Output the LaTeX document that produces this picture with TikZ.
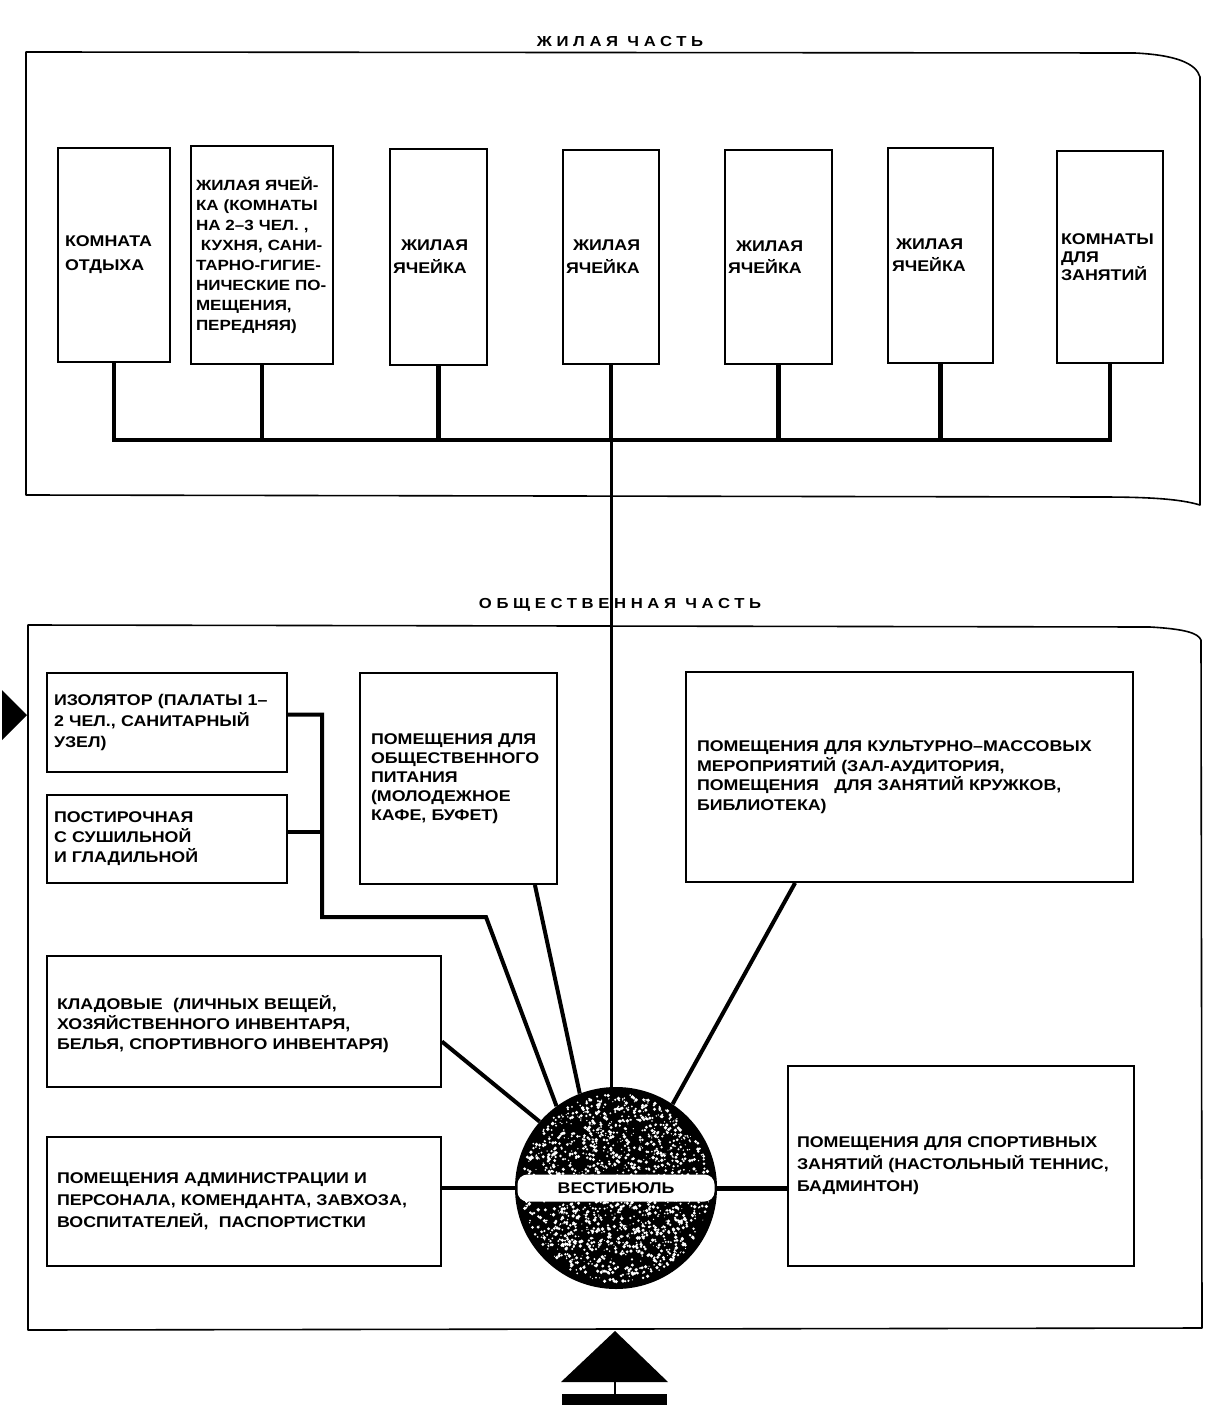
\documentclass[tikz,border=0pt]{standalone}
\usepackage{fontspec}
\setmainfont{Liberation Sans}[FakeStretch=1.15]
\usetikzlibrary{calc}
\newcommand\roomfnt{\fontsize{15.5}{20}\selectfont\bfseries}
\newcommand\ttlfnt{\fontsize{14.5}{16}\selectfont\bfseries\addfontfeature{LetterSpace=32}}
\begin{document}
\begin{tikzpicture}[x=1pt,y=-1pt,
 room/.style={draw, line width=1.8pt, align=left, inner ysep=0pt, font=\roomfnt},
 frame/.style={draw, line width=1.6pt, line join=round},
 conn/.style={line width=4pt, line cap=butt},
 bus/.style={line width=4.5pt},
 ttl/.style={font=\ttlfnt, inner sep=0pt}]
\useasboundingbox (0,0) rectangle (1221,1421);
\fill[white] (0,0) rectangle (1221,1421);

% frames
\draw[frame] (26,52) -- (1135,53) .. controls (1175,55) and (1196,63) .. (1200,77) -- (1200,505) .. controls (1180,499) and (1150,497) .. (1100,497) -- (26,495) -- cycle;
\draw[frame] (28,625) -- (1150,627) .. controls (1185,629) and (1198,633) .. (1201,640) -- (1202,1328) -- (28,1330) -- cycle;

\node[ttl] (t1) at (620,42) {ЖИЛАЯ ЧАСТЬ};
\node[ttl] (t2) at (620,605) {ОБЩЕСТВЕННАЯ ЧАСТЬ};

% top rooms
\node[room, minimum width=112pt, minimum height=214pt, text width=98pt, inner xsep=7pt, font={\roomfnt\fontsize{15.5}{24}\selectfont}] (r1) at (114,255) {КОМНАТА\\ОТДЫХА};
\node[room, minimum width=142pt, minimum height=218pt, text width=132pt, inner xsep=5pt, font={\roomfnt\fontsize{14.8}{20}\selectfont}] (r2) at (262,255) {\mbox{ЖИЛАЯ ЯЧЕЙ-}\\\mbox{КА (КОМНАТЫ}\\\mbox{НА 2–3 ЧЕЛ. ,}\\\mbox{ КУХНЯ, САНИ-}\\\mbox{ТАРНО-ГИГИЕ-}\\\mbox{НИЧЕСКИЕ ПО-}\\\mbox{МЕЩЕНИЯ,}\\\mbox{ПЕРЕДНЯЯ)}};
\node[room, minimum width=97pt, minimum height=216pt, text width=91pt, inner xsep=3pt, font={\roomfnt\fontsize{15.5}{23}\selectfont}] (r3) at (438.5,257) {\hspace*{8pt}ЖИЛАЯ\\ЯЧЕЙКА};
\node[room, minimum width=96pt, minimum height=214pt, text width=90pt, inner xsep=3pt, font={\roomfnt\fontsize{15.5}{23}\selectfont}] (r4) at (611,257) {\hspace*{7pt}ЖИЛАЯ\\ЯЧЕЙКА};
\node[room, minimum width=107pt, minimum height=214pt, text width=101pt, inner xsep=3pt, font={\roomfnt\fontsize{15.5}{22}\selectfont}] (r5) at (778.5,257) {\hspace*{8pt}ЖИЛАЯ\\ЯЧЕЙКА};
\node[room, minimum width=105pt, minimum height=215pt, text width=97pt, inner xsep=4pt, font={\roomfnt\fontsize{15.5}{22}\selectfont}] (r6) at (940.5,255.5) {\hspace*{4pt}ЖИЛАЯ\\ЯЧЕЙКА};
\node[room, minimum width=106pt, minimum height=212pt, text width=98pt, inner xsep=4pt, font={\roomfnt\fontsize{15.5}{18}\selectfont}] (r7) at (1110,257) {КОМНАТЫ\\ДЛЯ\\ЗАНЯТИЙ};

% bus
\coordinate (bus) at (0,440);
\draw[bus, line join=miter] (r1.south) -- (r1.south |- bus) -- (r7.south |- bus) -- (r7.south);
\foreach \k in {r2,r3,r4,r5,r6}{\draw[bus, line cap=rect] (\k.south) -- (\k.south |- bus);}

% bottom rooms
\node[room, minimum width=240pt, minimum height=99pt, text width=226pt, inner xsep=7pt, font={\roomfnt\fontsize{15.5}{21}\selectfont}] (iz) at (167,722.5) {ИЗОЛЯТОР (ПАЛАТЫ 1–\\2 ЧЕЛ., САНИТАРНЫЙ\\УЗЕЛ)};
\node[room, minimum width=240pt, minimum height=88pt, text width=226pt, inner xsep=7pt] (post) at (167,839) {ПОСТИРОЧНАЯ\\С СУШИЛЬНОЙ\\И ГЛАДИЛЬНОЙ};
\node[room, minimum width=197pt, minimum height=211pt, text width=175pt, inner xsep=11pt, font={\roomfnt\fontsize{15.5}{19}\selectfont}] (pit) at (458.5,778.5) {ПОМЕЩЕНИЯ ДЛЯ\\ОБЩЕСТВЕННОГО\\ПИТАНИЯ\\(МОЛОДЕЖНОЕ\\КАФЕ, БУФЕТ)};
\node[room, minimum width=447pt, minimum height=210pt, text width=425pt, inner xsep=11pt, font={\roomfnt\fontsize{15.5}{19.5}\selectfont}] (kult) at (909.5,777) {ПОМЕЩЕНИЯ ДЛЯ КУЛЬТУРНО–МАССОВЫХ\\МЕРОПРИЯТИЙ (ЗАЛ-АУДИТОРИЯ,\\ПОМЕЩЕНИЯ\ \ \ ДЛЯ ЗАНЯТИЙ КРУЖКОВ,\\БИБЛИОТЕКА)};
\node[room, minimum width=394pt, minimum height=131pt, text width=374pt, inner xsep=10pt] (klad) at (244,1021.5) {\rule{0pt}{20pt}КЛАДОВЫЕ\ \ (ЛИЧНЫХ ВЕЩЕЙ,\\ХОЗЯЙСТВЕННОГО ИНВЕНТАРЯ,\\БЕЛЬЯ, СПОРТИВНОГО ИНВЕНТАРЯ)};
\node[room, minimum width=394pt, minimum height=129pt, text width=374pt, inner xsep=10pt, font={\roomfnt\fontsize{15.5}{22}\selectfont}] (adm) at (244,1201.5) {ПОМЕЩЕНИЯ АДМИНИСТРАЦИИ И\\ПЕРСОНАЛА, КОМЕНДАНТА, ЗАВХОЗА,\\ВОСПИТАТЕЛЕЙ,\ \ ПАСПОРТИСТКИ};
\node[room, minimum width=346pt, minimum height=200pt, text width=328pt, inner xsep=9pt, font={\roomfnt\fontsize{15.5}{22}\selectfont}] (sport) at (961,1166) {ПОМЕЩЕНИЯ ДЛЯ СПОРТИВНЫХ\\ЗАНЯТИЙ (НАСТОЛЬНЫЙ ТЕННИС,\\БАДМИНТОН)};

% vestibule sphere
\node[circle, fill=black, minimum size=202pt, inner sep=0pt] (sph) at (616,1188) {};
\begin{scope}
\clip (sph.center) circle (97);
\pgfmathsetseed{12345}
\foreach \i in {1,...,1700}{
 \pgfmathsetmacro\rr{94*sqrt(rnd)}
 \pgfmathsetmacro\aa{360*rnd}
 \pgfmathsetmacro\ss{0.5+1.4*rnd}
 \fill[white] ($(sph.center)+(\aa:\rr)$) circle (\ss);
}
\end{scope}
\node[fill=white, rounded corners=10pt, minimum width=197pt, minimum height=27pt, inner sep=0pt, font={\fontsize{15.5}{17}\selectfont\bfseries}] (vest) at (sph.center) {ВЕСТИБЮЛЬ};

% connectors
\draw[line width=3pt] (r4.south) -- (r4.south |- sph.north);
\coordinate (bend1) at (322,917);
\coordinate (bend2) at (486,917);
\draw[conn, line join=miter] ([yshift=8pt]iz.east) -| (bend1) -- (bend2) -- (sph.126);
\draw[conn] ([yshift=7pt]post.east) -- ([yshift=7pt]post.east -| bend1);
\draw[conn] ([xshift=-23pt]pit.south east) -- (sph.111);
\draw[conn] ([xshift=110pt]kult.south west) -- (sph.56);
\draw[conn] ([yshift=-20pt]klad.east) -- (sph.139);
\draw[conn] (sph.west -| adm.east) -- (sph.west);
\draw[conn, line width=5pt] (sph.east) -- (sph.east -| sport.west);

% entrance markers
\fill[black] (2,690) -- (27,715) -- (2,740) -- cycle;
\fill[black] (615,1331) -- (668,1382) -- (561,1382) -- cycle;
\draw[line width=2pt] (615,1382) -- (615,1396);
\fill[black] (562,1394) rectangle (667,1405);
\end{tikzpicture}
\end{document}
